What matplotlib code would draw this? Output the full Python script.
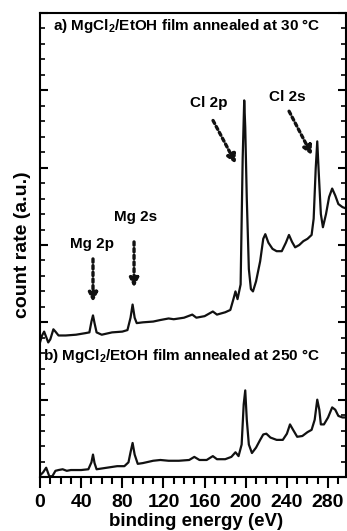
import matplotlib
matplotlib.use("Agg")
import matplotlib.pyplot as plt
from matplotlib.ticker import MultipleLocator

plt.rcParams['font.family'] = ['Liberation Sans', 'DejaVu Sans']
plt.rcParams['font.weight'] = 'bold'
plt.rcParams['mathtext.fontset'] = 'custom'
plt.rcParams['mathtext.rm'] = 'Liberation Sans:bold'
plt.rcParams['mathtext.bf'] = 'Liberation Sans:bold'

# survey spectrum, film annealed at 30 °C (offset upwards)
energy_a = [0, 2, 4, 6, 8, 10, 13, 15, 18, 25, 35, 44, 48, 50, 51.5, 53, 55, 60, 70, 80,
            85, 88, 90, 92, 94, 100, 110, 117, 125, 130, 140, 148, 152, 160, 168, 172, 180,
            185, 188, 190, 192, 195, 197, 198.5, 199.5, 201, 203, 205, 207, 210, 214, 217,
            219, 222, 226, 230, 235, 239, 242, 245, 248, 252, 256, 260, 264, 266, 268,
            269.5, 271, 273, 275, 278, 281, 284, 287, 290, 294, 298]
counts_a = [1.74, 1.83, 1.88, 1.81, 1.74, 1.78, 1.91, 1.88, 1.83, 1.83, 1.84, 1.86, 1.87,
            2.01, 2.09, 1.99, 1.87, 1.84, 1.87, 1.88, 1.90, 2.06, 2.23, 2.06, 1.99, 2.00,
            2.01, 2.03, 2.05, 2.04, 2.06, 2.10, 2.06, 2.08, 2.14, 2.10, 2.13, 2.16, 2.30,
            2.40, 2.30, 2.49, 4.12, 4.87, 4.52, 3.60, 2.69, 2.43, 2.40, 2.53, 2.79, 3.08,
            3.14, 3.03, 2.95, 2.92, 2.92, 3.03, 3.13, 3.04, 2.97, 3.00, 3.05, 3.08, 3.13,
            3.34, 3.99, 4.34, 3.92, 3.40, 3.23, 3.40, 3.62, 3.73, 3.64, 3.53, 3.49, 3.47]

# survey spectrum, film annealed at 250 °C
energy_b = [0, 3, 6, 9, 12, 15, 18, 22, 26, 30, 40, 47, 50, 51.5, 53, 55, 65, 75, 82, 86,
            88, 90, 92, 95, 100, 110, 117, 125, 135, 145, 150, 155, 162, 168, 172, 180, 186,
            190, 193, 196, 198, 199.5, 201, 203, 206, 210, 214, 217, 220, 224, 230, 236,
            240, 243, 246, 250, 255, 260, 264, 267, 269.5, 271.5, 273, 276, 280, 284, 287,
            290, 294, 298]
counts_b = [0.02, 0.06, 0.12, 0.01, 0.01, 0.08, 0.09, 0.10, 0.08, 0.09, 0.09, 0.10, 0.19,
            0.29, 0.18, 0.10, 0.12, 0.14, 0.14, 0.19, 0.32, 0.44, 0.29, 0.17, 0.18, 0.21,
            0.22, 0.21, 0.21, 0.22, 0.26, 0.22, 0.22, 0.27, 0.23, 0.23, 0.26, 0.32, 0.27,
            0.42, 0.94, 1.12, 0.74, 0.42, 0.31, 0.38, 0.48, 0.55, 0.56, 0.51, 0.48, 0.48,
            0.56, 0.68, 0.61, 0.52, 0.53, 0.58, 0.61, 0.74, 1.00, 0.87, 0.68, 0.68, 0.77,
            0.90, 0.87, 0.79, 0.77, 0.77]

fig = plt.figure(figsize=(3.47, 5.31), dpi=100)
ax = fig.add_axes([0.1153, 0.1017, 0.882, 0.8738])

ax.plot(energy_a, counts_a, color='#111111', lw=1.6)
ax.plot(energy_b, counts_b, color='#111111', lw=1.6)

ax.set_xlim(0, 297.5)
ax.set_ylim(0, 6)
ax.xaxis.set_major_locator(MultipleLocator(40))
ax.xaxis.set_minor_locator(MultipleLocator(10))
ax.yaxis.set_major_locator(MultipleLocator(1))
ax.yaxis.set_minor_locator(MultipleLocator(0.2))
ax.tick_params(axis='x', which='major', direction='out', length=8, width=1.5,
               labelsize=14, pad=4)
ax.tick_params(axis='x', which='minor', direction='out', length=5, width=1.5)
ax.tick_params(axis='y', which='major', direction='in', length=6, width=1.5,
               left=True, right=True, labelleft=False)
ax.tick_params(axis='y', which='minor', direction='in', length=3.5, width=1.2,
               left=True, right=True)
for s in ax.spines.values():
    s.set_linewidth(1.5)

ax.set_xlabel('binding energy (eV)', fontsize=13.5, fontweight='bold')
ax.set_ylabel('count rate (a.u.)', fontsize=14, fontweight='bold')
ax.xaxis.set_label_coords(0.51, -0.077)
ax.yaxis.set_label_coords(-0.03, 0.5)

ax.text(12.6, 5.83, r'a) MgCl$_\mathbf{2}$/EtOH film annealed at 30 °C',
        fontsize=11, fontweight='bold', ha='left', va='center')
ax.text(2.9, 1.56, r'b) MgCl$_\mathbf{2}$/EtOH film annealed at 250 °C',
        fontsize=11, fontweight='bold', ha='left', va='center')

# peak labels with dotted arrows
arrow = dict(arrowstyle='-|>', linestyle=(0, (1, 1)), lw=2.4, color='#111111',
             mutation_scale=13, shrinkA=0, shrinkB=0)
ax.text(164.3, 4.83, 'Cl 2p', fontsize=11, fontweight='bold', ha='center', va='center')
ax.annotate('', xy=(190.5, 4.05), xytext=(168.2, 4.61), arrowprops=arrow)
ax.text(240.1, 4.92, 'Cl 2s', fontsize=11, fontweight='bold', ha='center', va='center')
ax.annotate('', xy=(264.4, 4.16), xytext=(242.1, 4.73), arrowprops=arrow)
ax.text(51.0, 3.01, 'Mg 2p', fontsize=11, fontweight='bold', ha='center', va='center')
ax.annotate('', xy=(51.5, 2.26), xytext=(51.5, 2.82), arrowprops=arrow)
ax.text(92.4, 3.36, 'Mg 2s', fontsize=11, fontweight='bold', ha='center', va='center')
ax.annotate('', xy=(91.4, 2.45), xytext=(91.4, 3.04), arrowprops=arrow)

fig.savefig('out.png', dpi=100)
